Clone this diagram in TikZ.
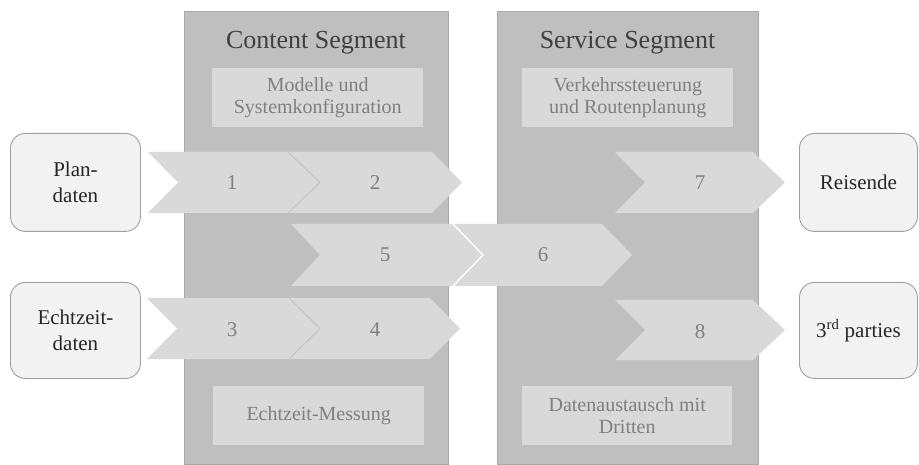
\documentclass[tikz,border=0pt]{standalone}
\usepackage{fontspec}
\setmainfont{Liberation Serif}
\definecolor{panel}{HTML}{BFBFBF}
\definecolor{panelborder}{HTML}{A8A8A8}
\definecolor{inner}{HTML}{D9D9D9}
\definecolor{outerfill}{HTML}{F2F2F2}
\definecolor{outerborder}{HTML}{A0A0A0}
\definecolor{titletext}{HTML}{404040}
\definecolor{graytext}{HTML}{7F7F7F}
\definecolor{darktext}{HTML}{262626}
\definecolor{notchgray}{HTML}{C4C4C4}
\begin{document}
\begin{tikzpicture}[x=1pt,y=-1pt,
  panelbox/.style={fill=panel,draw=panelborder,line width=0.9pt,inner sep=0pt,anchor=north west},
  innerbox/.style={fill=inner,draw=none,inner sep=0pt,anchor=north west,text=graytext,
     font=\fontsize{20}{22.5}\selectfont,align=center},
  titlestyle/.style={text=titletext,font=\fontsize{26}{30}\selectfont,inner sep=0pt},
  chevfill/.style={fill=inner,draw=none},
  numlabel/.style={text=graytext,font=\fontsize{21}{24}\selectfont,inner sep=0pt},
  outerbox/.style={fill=outerfill,draw=outerborder,line width=0.9pt,rounded corners=15pt,
     inner sep=0pt,anchor=north west,text=darktext,font=\fontsize{21}{25.5}\selectfont,align=center},
  notchline/.style={draw=notchgray,line width=1pt},
  whitenotch/.style={draw=white,line width=1.4pt}
]
\useasboundingbox (0,0) rectangle (919,465);

% panels
\node[panelbox,minimum width=264pt,minimum height=453pt] (content) at (184,11) {};
\node[panelbox,minimum width=261pt,minimum height=453pt] (service) at (497,11) {};

\node[titlestyle] (ctitle) at (316,43) {Content Segment};
\node[titlestyle] (stitle) at (627.5,43) {Service Segment};

% inner boxes
\node[innerbox,minimum width=211pt,minimum height=59pt] (modelle) at (212,68)
  {}; 
\node[text=graytext,font=\fontsize{20}{22.5}\selectfont,align=center,inner sep=0pt]
  (modelletext) at (modelle.center) {Modelle und\\Systemkonfiguration};
\node[innerbox,minimum width=211pt,minimum height=59pt] (verkehr) at (522,68) {};
\node[text=graytext,font=\fontsize{20}{22.5}\selectfont,align=center,inner sep=0pt]
  (verkehrtext) at (verkehr.center) {Verkehrssteuerung\\und Routenplanung};
\node[innerbox,minimum width=211pt,minimum height=59pt] (messung) at (213,386) {};
\node[text=graytext,font=\fontsize{20}{22.5}\selectfont,align=center,inner sep=0pt]
  (messungtext) at (messung.center) {Echtzeit-Messung};
\node[innerbox,minimum width=210pt,minimum height=59pt] (austausch) at (522,386) {};
\node[text=graytext,font=\fontsize{20}{22.5}\selectfont,align=center,inner sep=0pt]
  (austauschtext) at (austausch.center) {Datenaustausch mit\\Dritten};

% outer boxes
\node[outerbox,minimum width=130pt,minimum height=98pt] (plan) at (10,133) {};
\node[text=darktext,font=\fontsize{21}{25.5}\selectfont,align=center,inner sep=0pt]
  (plantext) at (plan.center) {Plan-\\daten};
\node[outerbox,minimum width=130pt,minimum height=96pt] (echtzeit) at (10,282) {};
\node[text=darktext,font=\fontsize{21}{25.5}\selectfont,align=center,inner sep=0pt]
  (echtzeittext) at (echtzeit.center) {Echtzeit-\\daten};
\node[outerbox,minimum width=118pt,minimum height=98pt] (reisende) at (799,133) {};
\node[text=darktext,font=\fontsize{21}{25.5}\selectfont,align=center,inner sep=0pt]
  (reisendetext) at (reisende.center) {Reisende};
\node[outerbox,minimum width=118pt,minimum height=96pt] (parties) at (799,282) {};
\node[text=darktext,font=\fontsize{21}{25.5}\selectfont,align=center,inner sep=0pt]
  (partiestext) at (parties.center) {3\textsuperscript{rd} parties};

% chevrons row 1
\fill[chevfill] (148,152) -- (290,152) -- (320,182.5) -- (290,213) -- (148,213) -- (178,182.5) -- cycle;
\node[numlabel] (c1) at (232,183) {1};
\fill[chevfill] (288,152) -- (432,152) -- (462,182.5) -- (432,213) -- (288,213) -- (320,182.5) -- cycle;
\draw[notchline] (288,152) -- (320,182.5) -- (288,213);
\node[numlabel] (c2) at (375,183) {2};
\fill[chevfill] (615,152) -- (753,152) -- (785,182.5) -- (753,213) -- (615,213) -- (645,182.5) -- cycle;
\node[numlabel] (c7) at (700,183) {7};

% chevrons row 2
\fill[chevfill] (291,224) -- (452,224) -- (483,255) -- (452,286) -- (291,286) -- (320,255) -- cycle;
\node[numlabel] (c5) at (385,255) {5};
\fill[chevfill] (453,224) -- (602,224) -- (632,255) -- (602,286) -- (453,286) -- (483,255) -- cycle;
\draw[whitenotch] (453,224) -- (483,255) -- (453,286);
\node[numlabel] (c6) at (543,255) {6};

% chevrons row 3
\fill[chevfill] (147,298) -- (290,298) -- (320,328.5) -- (290,359) -- (147,359) -- (177,328.5) -- cycle;
\node[numlabel] (c3) at (232,330) {3};
\fill[chevfill] (289,298) -- (430,298) -- (460,328.5) -- (430,359) -- (289,359) -- (320,328.5) -- cycle;
\draw[notchline] (289,298) -- (320,328.5) -- (289,359);
\node[numlabel] (c4) at (375,330) {4};
\fill[chevfill] (615,300) -- (753,300) -- (785,330) -- (753,360) -- (615,360) -- (645,330) -- cycle;
\node[numlabel] (c8) at (700,332) {8};
\end{tikzpicture}
\end{document}
